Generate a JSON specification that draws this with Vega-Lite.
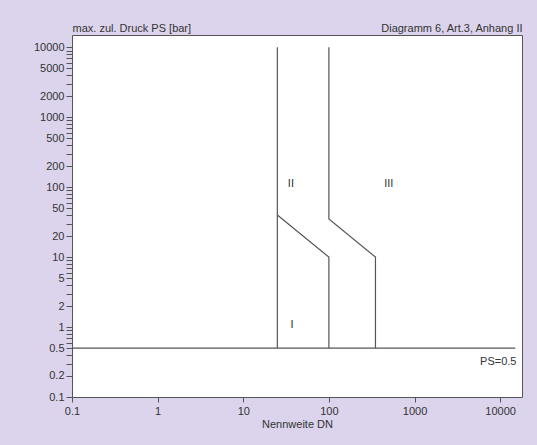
{
  "$schema": "https://vega.github.io/schema/vega-lite/v6.json",
  "width": 450,
  "height": 362,
  "autosize": "none",
  "padding": {"left": 72, "top": 35, "right": 15, "bottom": 48},
  "background": "#dcd4ec",
  "config": {
    "view": {"fill": "white", "stroke": "#555555", "strokeWidth": 1},
    "axis": {
      "labelFont": "Liberation Sans",
      "labelFontSize": 11,
      "labelColor": "#333333",
      "titleFont": "Liberation Sans",
      "titleFontSize": 11,
      "titleFontWeight": "normal",
      "titleColor": "#333333",
      "tickColor": "#555555",
      "domainColor": "#555555",
      "grid": false
    }
  },
  "datasets": {
    "lines": [
      {"seg": "s1", "ord": 1, "dn": 25, "ps": 10000},
      {"seg": "s1", "ord": 2, "dn": 25, "ps": 0.5},
      {"seg": "s2", "ord": 1, "dn": 25, "ps": 40},
      {"seg": "s2", "ord": 2, "dn": 100, "ps": 10},
      {"seg": "s2", "ord": 3, "dn": 100, "ps": 0.5},
      {"seg": "s3", "ord": 1, "dn": 100, "ps": 10000},
      {"seg": "s3", "ord": 2, "dn": 100, "ps": 35},
      {"seg": "s3", "ord": 3, "dn": 350, "ps": 10},
      {"seg": "s3", "ord": 4, "dn": 350, "ps": 0.5},
      {"seg": "s4", "ord": 1, "dn": 0.1, "ps": 0.5},
      {"seg": "s4", "ord": 2, "dn": 15000, "ps": 0.5}
    ],
    "labels": [
      {"txt": "II", "dn": 36, "ps": 110},
      {"txt": "III", "dn": 500, "ps": 110},
      {"txt": "I", "dn": 37, "ps": 1.07},
      {"txt": "PS=0.5", "dn": 9500, "ps": 0.32}
    ]
  },
  "resolve": {"axis": {"y": "independent"}},
  "layer": [
    {
      "data": {"name": "lines"},
      "mark": {"type": "line", "color": "#555555", "strokeWidth": 1.2, "clip": true},
      "encoding": {
        "x": {
          "field": "dn",
          "type": "quantitative",
          "scale": {"type": "log", "domain": [0.1, 18000], "nice": false},
          "axis": {
            "title": "Nennweite DN",
            "titlePadding": 2,
            "values": [0.1, 1, 10, 100, 1000, 10000],
            "format": "~g",
            "tickSize": 5,
            "labelPadding": 3,
            "labelFlush": false,
            "domain": false
          }
        },
        "y": {
          "field": "ps",
          "type": "quantitative",
          "scale": {"type": "log", "domain": [0.1, 15000], "nice": false},
          "axis": {
            "title": "max. zul. Druck PS [bar]",
            "titleAngle": 0,
            "titleAlign": "left",
            "titleBaseline": "bottom",
            "titleX": 0,
            "titleY": -2,
            "values": [0.1, 0.2, 0.3, 0.4, 0.5, 0.6, 0.7, 0.8, 0.9, 1, 2, 3, 4, 5, 6, 7, 8, 9, 10, 20, 30, 40, 50, 60, 70, 80, 90, 100, 200, 300, 400, 500, 600, 700, 800, 900, 1000, 2000, 3000, 4000, 5000, 6000, 7000, 8000, 9000, 10000],
            "labelExpr": "indexof([0.1,0.2,0.5,1,2,5,10,20,50,100,200,500,1000,2000,5000,10000], datum.value) >= 0 ? format(datum.value, '~g') : ''",
            "tickSize": 6,
            "labelPadding": 2,
            "labelFlush": false,
            "labelOverlap": false,
            "domain": false
          }
        },
        "detail": {"field": "seg"},
        "order": {"field": "ord"}
      }
    },
    {
      "data": {"name": "labels"},
      "mark": {"type": "text", "font": "Liberation Sans", "fontSize": 11, "color": "#333333", "align": "center", "baseline": "middle"},
      "encoding": {
        "x": {"field": "dn", "type": "quantitative"},
        "y": {
          "field": "ps",
          "type": "quantitative",
          "axis": {
            "orient": "right",
            "title": "Diagramm 6, Art.3, Anhang II",
            "titleAngle": 0,
            "titleAlign": "right",
            "titleBaseline": "bottom",
            "titleX": 0,
            "titleY": -2,
            "labels": false,
            "ticks": false,
            "domain": false
          }
        },
        "text": {"field": "txt"}
      }
    }
  ]
}
